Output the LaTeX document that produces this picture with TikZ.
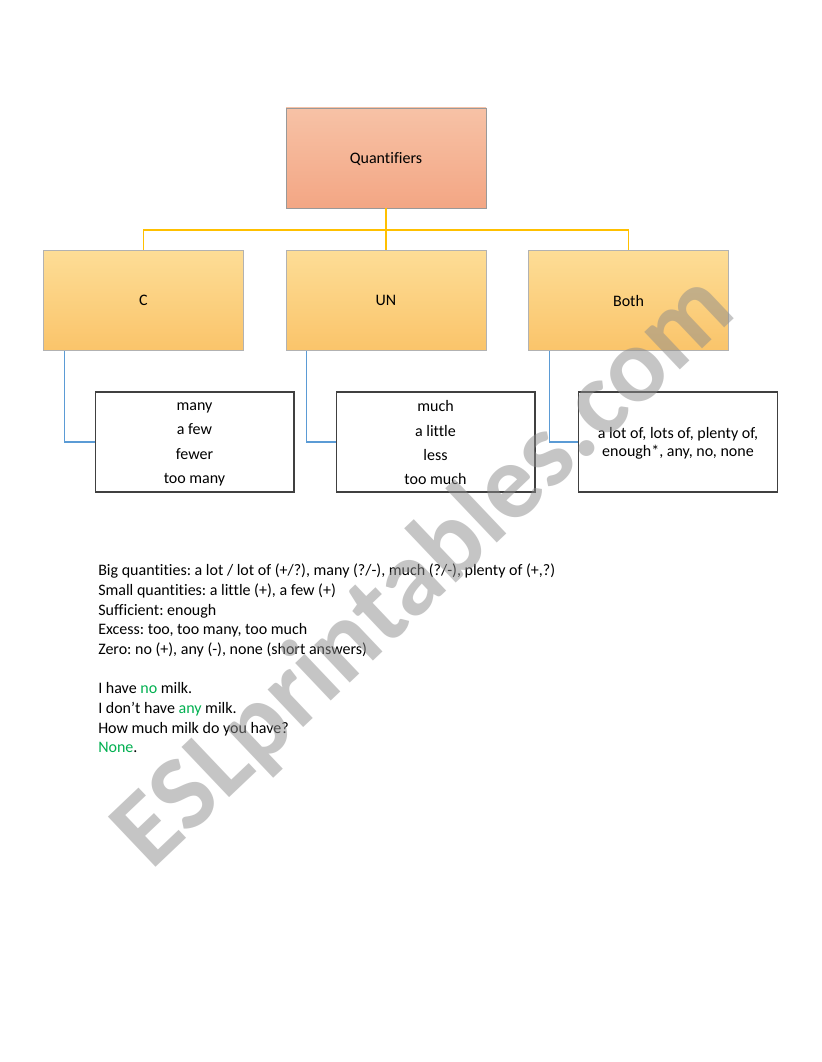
\documentclass[tikz,border=0pt]{standalone}
\usepackage{fontspec}
\setmainfont[Ligatures = NoCommon]{Carlito}
\usepackage{tikz}
\usetikzlibrary{positioning}
\usetikzlibrary{calc}
\frenchspacing

\definecolor{topA}{RGB}{247,194,166}
\definecolor{topB}{RGB}{243,166,132}
\definecolor{boxA}{RGB}{253,221,150}
\definecolor{boxB}{RGB}{250,196,106}
\definecolor{yline}{RGB}{255,192,0}
\definecolor{bline}{RGB}{91,155,213}
\definecolor{okgreen}{RGB}{0,176,80}

\begin{document}
\begin{tikzpicture}
[
	x = 0.75pt, y = -0.75pt,
	every node/.style = {font = \fontsize{12}{14}\selectfont},
	head/.style	= {rectangle, draw = black!40, top color = topA, bottom color = topB, minimum width = 150pt, minimum height = 75pt, inner sep = 0pt},
	group/.style	= {head, draw = black!30, top color = boxA, bottom color = boxB},
	words/.style	= {rectangle, draw = black!75, line width = 1pt, fill = white, minimum width = 149pt, minimum height = 75pt, inner sep = 0pt, align = center, font = \fontsize{12}{18.3}\selectfont},
	tree/.style	= {draw = yline, line width = 1pt},
	sub/.style	= {draw = bline, line width = 0.9pt},
	notes/.style	= {anchor = north west, align = left, inner sep = 0pt, font = \fontsize{12}{14.7}\selectfont},
	node distance = 31.5pt and 31.5pt,
]

	\useasboundingbox [fill = white] (0,0) rectangle (821,1062);

	\node (quant) [head, text height = 10pt] at (386,158) {Quantifiers};
	%
	\node (UN) [group, below = of quant] {UN};
	\node (C) [group, left = of UN] {C};
	\node (Both) [group, right = of UN] {Both};
	%
	\node (Clist) [words] at (194.5,442) {\rule{0pt}{9.5pt}many\\a few\\fewer\\too many};
	\node (UNlist) [words] at (435.5,442) {\rule{0pt}{9.5pt}much\\a little\\less\\too much};
	\node (Bothlist) [words, font = \fontsize{12}{13.5}\selectfont] at (678,442) {\rule{0pt}{11pt}a lot of, lots of, plenty of,\\enough*, any, no, none};
	%
	\coordinate (bus) at (386,230);

	\draw [tree] (quant) -- (bus);
	\draw [tree] (bus) -| (C);
	\draw [tree] (bus) -| (Both);
	\draw [tree] (bus) -- (UN);

	\draw [sub] ([xshift = 15.75pt]C.south west) |- (Clist);
	\draw [sub] ([xshift = 15.75pt]UN.south west) |- (UNlist);
	\draw [sub] ([xshift = 15.75pt]Both.south west) |- (Bothlist);

	\node (rules) [notes] at (98,564) {Big quantities: a lot / lot of (+/?), many (?/-), much (?/-), plenty of (+,?)\\
		Small quantities: a little (+), a few (+)\\
		Sufficient: enough\\
		Excess: too, too many, too much\\
		Zero: no (+), any (-), none (short answers)};
	\node (examples) [notes] at (98,682.5) {I have \textcolor{okgreen}{no} milk.\\
		I don’t have \textcolor{okgreen}{any} milk.\\
		How much milk do you have?\\
		\textcolor{okgreen}{None}.};

	% watermark
	\node (mark) [rotate = 43.5, text = black!45, opacity = 0.5, font = \fontsize{80}{80}\selectfont\bfseries] at (425,572) {ESLprintables.com};

\end{tikzpicture}
\end{document}
